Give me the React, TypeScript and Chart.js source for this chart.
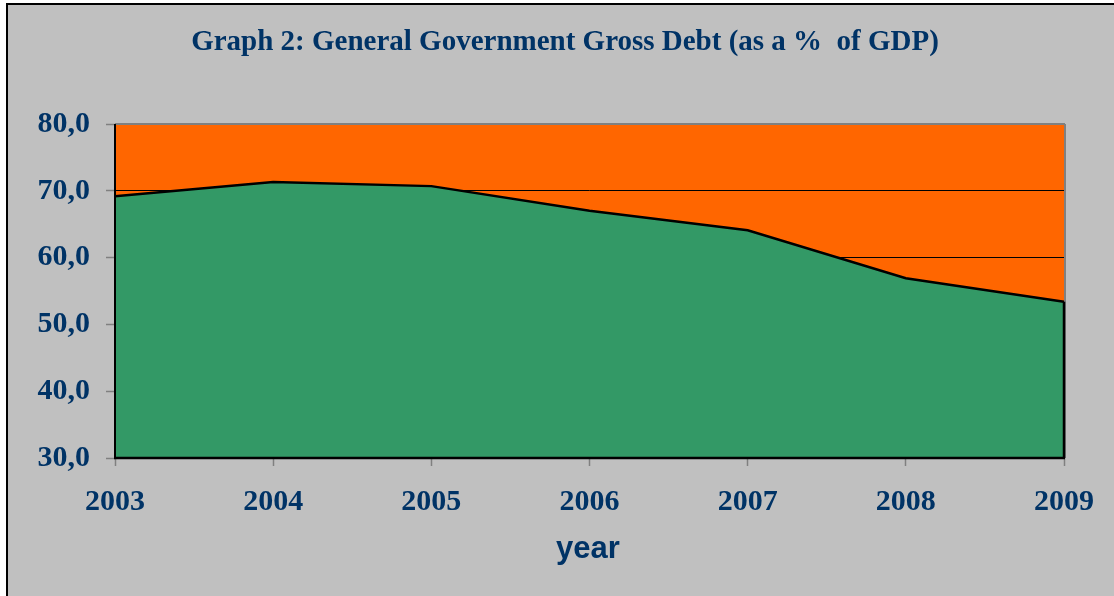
import React, { useEffect, useRef } from "react";
import { Chart, registerables } from "chart.js";

Chart.register(...registerables);

const years = ["2003", "2004", "2005", "2006", "2007", "2008", "2009"];
const debtValues = [69.2, 71.3, 70.7, 67.0, 64.1, 56.9, 53.4];
const yTickValues = [30, 40, 50, 60, 70, 80];
const chartTitle = "Graph 2: General Government Gross Debt (as a %  of GDP)";
const xAxisTitle = "year";

const NAVY = "#003366";
const GRAY_BG = "#C0C0C0";
const ORANGE = "#FF6600";
const GREEN = "#339966";

const framePlugin = {
  id: "frame",
  beforeDraw(chart: any) {
    const { ctx, width, height, chartArea } = chart;
    ctx.save();
    ctx.fillStyle = "#FFFFFF";
    ctx.fillRect(0, 0, width, height);
    ctx.fillStyle = GRAY_BG;
    ctx.fillRect(6, 3, width - 6, height - 3);
    ctx.fillStyle = "#000000";
    ctx.fillRect(6, 3, 2, height - 3);
    ctx.fillRect(6, 3, width - 6, 2);
    ctx.fillStyle = ORANGE;
    ctx.fillRect(
      chartArea.left,
      chartArea.top,
      chartArea.right - chartArea.left,
      chartArea.bottom - chartArea.top
    );
    ctx.restore();
  },
  afterDatasetsDraw(chart: any) {
    const { ctx, chartArea } = chart;
    const { left, right, top, bottom } = chartArea;
    ctx.save();
    ctx.strokeStyle = "#808080";
    ctx.lineWidth = 2;
    ctx.beginPath();
    ctx.moveTo(left, top);
    ctx.lineTo(right + 1, top);
    ctx.moveTo(right + 1, top);
    ctx.lineTo(right + 1, bottom);
    ctx.stroke();
    const meta = chart.getDatasetMeta(0);
    const last = meta.data[meta.data.length - 1];
    ctx.strokeStyle = "#000000";
    ctx.lineWidth = 2.5;
    ctx.beginPath();
    ctx.moveTo(right, last.y);
    ctx.lineTo(right, bottom);
    ctx.stroke();
    ctx.lineWidth = 2;
    ctx.beginPath();
    ctx.moveTo(left, top);
    ctx.lineTo(left, bottom);
    ctx.stroke();
    ctx.lineWidth = 2.5;
    ctx.beginPath();
    ctx.moveTo(left - 1, bottom);
    ctx.lineTo(right + 1, bottom);
    ctx.stroke();
    ctx.restore();
  },
  afterDraw(chart: any) {
    const { ctx } = chart;
    ctx.save();
    ctx.fillStyle = NAVY;
    ctx.textAlign = "center";
    ctx.textBaseline = "alphabetic";
    ctx.font = "bold 29px 'Liberation Serif', 'Times New Roman', serif";
    ctx.fillText(chartTitle, 565, 50);
    ctx.font = "bold 31px 'Liberation Sans', Arial, sans-serif";
    ctx.fillText(xAxisTitle, 588, 558);
    ctx.restore();
  },
};

export default function App() {
  const canvasRef = useRef<HTMLCanvasElement | null>(null);

  useEffect(() => {
    const canvas = canvasRef.current;
    if (!canvas) return;
    const chart = new Chart(canvas, {
      type: "line",
      data: {
        labels: years,
        datasets: [
          {
            data: debtValues,
            fill: "start",
            backgroundColor: GREEN,
            borderColor: "#000000",
            borderWidth: 2.5,
            pointRadius: 0,
            tension: 0,
          },
        ],
      },
      options: {
        animation: false,
        responsive: false,
        devicePixelRatio: 1,
        layout: { padding: { top: 124, right: 50, left: 0, bottom: 0 } },
        plugins: {
          legend: { display: false },
          title: { display: false },
          tooltip: { enabled: false },
        },
        scales: {
          x: {
            type: "category",
            offset: false,
            border: { display: false },
            grid: {
              drawOnChartArea: false,
              drawTicks: true,
              tickLength: 8,
              tickColor: "#808080",
              tickWidth: 1.5,
            },
            ticks: {
              color: NAVY,
              font: { family: "'Liberation Serif', 'Times New Roman', serif", size: 30, weight: "bold" },
              padding: 18,
              maxRotation: 0,
              autoSkip: false,
            },
            afterFit: (s: any) => {
              s.height = 138;
            },
          },
          y: {
            min: 30,
            max: 80,
            border: { display: false },
            afterBuildTicks: (s: any) => {
              s.ticks = yTickValues.map((v) => ({ value: v }));
            },
            grid: {
              color: (c: any) =>
                c.tick && (c.tick.value === 30 || c.tick.value === 80) ? "rgba(0,0,0,0)" : "#000000",
              lineWidth: 1,
              drawTicks: true,
              tickLength: 9,
              tickColor: "#808080",
              tickWidth: 1.5,
            },
            ticks: {
              color: NAVY,
              font: { family: "'Liberation Serif', 'Times New Roman', serif", size: 30, weight: "bold" },
              padding: 16,
              callback: (v: any) => Number(v).toFixed(1).replace(".", ","),
            },
            afterFit: (s: any) => {
              s.width = 115;
            },
          },
        },
      },
      plugins: [framePlugin],
    });
    return () => chart.destroy();
  }, []);

  return (
    <canvas
      ref={canvasRef}
      width={1114}
      height={596}
      style={{ position: "fixed", left: 0, top: 0, width: 1114, height: 596 }}
    />
  );
}
